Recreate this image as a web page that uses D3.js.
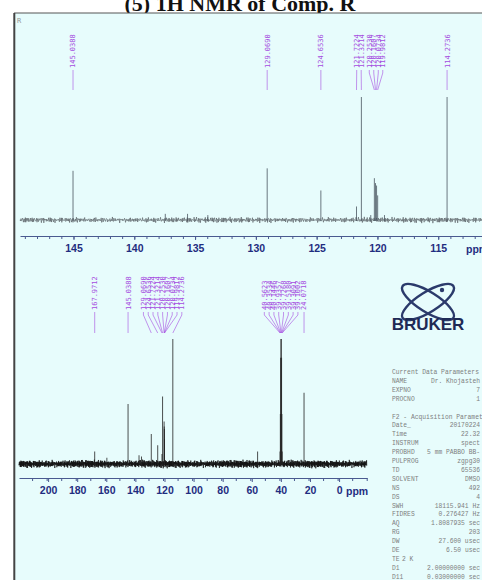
<!DOCTYPE html>
<html>
<head>
<meta charset="utf-8">
<script src="https://cdn.jsdelivr.net/npm/d3@7"></script>
<style>
  body { margin: 0; background: #fff; }
  svg { display: block; }
</style>
</head>
<body>
<svg width="482" height="580"></svg>
<script>
// ---------- data ----------
const titleText = '(5) 1H NMR of Comp. R';

// expanded aromatic region (top)
const topPeakPpm    = [145.0388, 137.45, 135.62, 133.95, 129.0690, 124.6536, 121.7224, 121.3214, 120.55, 120.2530, 120.1607, 120.0734, 119.9812, 119.42, 114.2736];
const topPeakHeight = [40, 5, 5, 4, 42, 24, 11, 100, 4, 34, 30, 28, 20, 4, 100];
const topLabelGroups = [
  [145.0388], [129.0690], [124.6536],
  [121.7224, 121.3214],
  [120.2530, 120.1607, 120.0734, 119.9812],
  [114.2736]
];
const topTicks = [145, 140, 135, 130, 125, 120, 115];

// full spectrum (bottom)
const botPeakPpm    = [167.9712, 159.6, 145.0388, 137.5, 135.8, 129.0690, 124.6536, 121.7224, 121.3214, 120.2530, 120.1607, 120.0734, 119.9812, 114.2736, 56.0, 40.5623, 40.3534, 40.1446, 39.9357, 39.7268, 39.5180, 39.3091, 39.1002, 24.0718];
const botPeakHeight = [10, 5, 48, 7, 6, 24, 15, 8, 54, 34, 30, 28, 20, 100, 10, 10, 40, 85, 100, 100, 85, 40, 10, 57];
const botLabelGroups = [
  [167.9712], [145.0388],
  [129.0690, 124.6536, 121.7224, 121.3214, 120.2530, 120.1607, 120.0734, 119.9812, 114.2736],
  [40.5623, 40.3534, 40.1446, 39.9357, 39.7268, 39.5180, 39.3091, 39.1002],
  [24.0718]
];
const botTicks = [200, 180, 160, 140, 120, 100, 80, 60, 40, 20, 0];

// hand typed baseline noise pattern
const noiseA = [0.3,-0.8,0.5,0.1,-0.4,0.9,-0.2,-0.7,0.6,0.2,-0.5,0.8,-0.9,0.4,0.0,-0.3,0.7,-0.6,0.2,0.5,-0.8,0.1,0.6,-0.4,-0.1,0.9,-0.5,0.3,-0.7,0.4,0.8,-0.2,-0.6,0.1,0.5,-0.9,0.2];
const noiseB = [-0.4,0.6,0.2,-0.7,0.3,-0.1,0.8,-0.5,0.0,0.4,-0.8,0.5,-0.2,0.7,-0.6,0.1,0.3,-0.3,0.9,-0.4,0.2,-0.9,0.5];

// acquisition parameter block
const paramNames  = ['Current Data Parameters', 'NAME', 'EXPNO', 'PROCNO', '', 'F2 - Acquisition Parameters', 'Date_', 'Time', 'INSTRUM', 'PROBHD', 'PULPROG', 'TD', 'SOLVENT', 'NS', 'DS', 'SWH', 'FIDRES', 'AQ', 'RG', 'DW', 'DE', 'TE', 'D1', 'D11'];
const paramValues = ['', 'Dr. Khojasteh', '7', '1', '', '', '20170224', '22.32', 'spect', '5 mm PABBO BB-', 'zgpg30', '65536', 'DMSO', '492', '4', '18115.941 Hz', '0.276427 Hz', '1.8087935 sec', '203', '27.600 usec', '6.50 usec', '2 K', '2.00000000 sec', '0.03000000 sec'];

// ---------- setup ----------
const svg = d3.select('svg');
const W = 482, H = 580;

svg.append('text')
  .attr('x', 240).attr('y', 10.5)
  .attr('text-anchor', 'middle')
  .style('font-family', '"Liberation Serif", "Times New Roman", serif')
  .style('font-weight', 'bold')
  .style('font-size', '22px')
  .style('fill', '#111')
  .text(titleText);

// frame
svg.append('rect')
  .attr('x', 14).attr('y', 13).attr('width', W - 14).attr('height', H - 13)
  .style('fill', '#e7fcfc');
svg.append('line').attr('x1', 14).attr('x2', W).attr('y1', 13).attr('y2', 13)
  .style('stroke', '#555').style('stroke-width', 1);
svg.append('line').attr('x1', 14.3).attr('x2', 14.3).attr('y1', 13).attr('y2', H)
  .style('stroke', '#444').style('stroke-width', 2);

svg.append('text').attr('x', 17).attr('y', 23)
  .style('font-family', '"DejaVu Sans Mono", monospace').style('font-size', '7px')
  .style('fill', '#999').text('R');

const labelColor = '#a54be0';
const axisColor = '#1f2d80';

function drawPanel(opt) {
  const g = svg.append('g');
  const x = opt.x, y = opt.y;

  // baseline noise
  const pts = [];
  const [d0, d1] = x.domain();
  let i = 0;
  for (let p = d0; p >= d1; p -= opt.step, i++) {
    const n = noiseA[i % noiseA.length] + 0.6 * noiseB[i % noiseB.length];
    pts.push([x(p), y(0) - n * opt.noiseAmp]);
  }
  g.append('path')
    .datum(pts)
    .attr('d', d3.line())
    .style('fill', 'none')
    .style('stroke', opt.noiseColor)
    .style('stroke-width', opt.noiseWidth);

  // peaks
  g.selectAll('.peak')
    .data(opt.ppm.map((p, k) => ({ p, h: opt.height[k] })))
    .enter().append('line')
    .attr('class', 'peak')
    .attr('x1', d => x(d.p)).attr('x2', d => x(d.p))
    .attr('y1', y(0) + 1).attr('y2', d => y(d.h))
    .style('stroke', opt.peakColor)
    .style('stroke-width', 0.8);

  // axis
  const minor = d3.axisBottom(x).tickValues(d3.range(Math.ceil(d1), Math.floor(d0) + 1, opt.minorStep))
    .tickSize(3).tickSizeOuter(0).tickFormat('');
  const major = d3.axisBottom(x).tickValues(opt.ticks).tickSize(4).tickSizeOuter(0).tickPadding(5);
  const ag = g.append('g').attr('transform', `translate(0,${opt.axisY})`);
  ag.call(minor);
  const mg = g.append('g').attr('transform', `translate(0,${opt.axisY})`).call(major);
  ag.select('.domain').style('stroke', '#4a5a90');
  mg.select('.domain').remove();
  g.selectAll('.tick line').style('stroke', '#4a5a90');
  mg.selectAll('text')
    .style('font-family', '"Liberation Sans", Arial, sans-serif')
    .style('font-weight', 'bold')
    .style('font-size', '10.5px')
    .style('fill', axisColor);
  g.append('text')
    .attr('x', opt.ppmX).attr('y', opt.axisY + 17)
    .style('font-family', '"Liberation Sans", Arial, sans-serif')
    .style('font-weight', 'bold').style('font-size', '10.5px')
    .style('fill', axisColor).text('ppm');

  // peak labels
  opt.groups.forEach(grp => {
    const px = grp.map(p => x(p));
    const cx = d3.mean(px);
    grp.forEach((p, k) => {
      const lx = cx + (k - (grp.length - 1) / 2) * opt.gap;
      g.append('text')
        .attr('transform', `translate(${lx},${opt.labelBottom}) rotate(-90)`)
        .attr('dy', '0.35em')
        .style('font-family', '"DejaVu Sans Mono", monospace')
        .style('font-size', '7px')
        .style('fill', labelColor)
        .text(p.toFixed(4));
      g.append('polyline')
        .attr('points', `${lx},${opt.labelBottom + 2} ${lx},${opt.labelBottom + 5} ${px[k]},${opt.lineEnd}`)
        .style('fill', 'none')
        .style('stroke', labelColor)
        .style('stroke-width', 0.6);
    });
  });
}

drawPanel({
  x: d3.scaleLinear().domain([149.4, 111.4]).range([20, 482]),
  y: d3.scaleLinear().domain([0, 100]).range([220, 97]),
  ppm: topPeakPpm, height: topPeakHeight, groups: topLabelGroups, ticks: topTicks,
  step: 0.04, noiseAmp: 2.2, noiseColor: '#3a3f44', noiseWidth: 0.5, peakColor: '#4a5560',
  minorStep: 1, axisY: 236, ppmX: 466, labelBottom: 68, lineEnd: 90, gap: 4.5
});

drawPanel({
  x: d3.scaleLinear().domain([220, -19.2]).range([19, 367]),
  y: d3.scaleLinear().domain([0, 100]).range([464, 339]),
  ppm: botPeakPpm, height: botPeakHeight, groups: botLabelGroups, ticks: botTicks,
  step: 0.12, noiseAmp: 3, noiseColor: '#111', noiseWidth: 0.7, peakColor: '#222',
  minorStep: 10, axisY: 478, ppmX: 346, labelBottom: 310, lineEnd: 333, gap: 4.8
});

// Bruker logo
const logo = svg.append('g').attr('transform', 'translate(428,302)');
[32, -32].forEach(a => {
  logo.append('ellipse')
    .attr('rx', 30).attr('ry', 10)
    .attr('transform', `rotate(${a})`)
    .style('fill', 'none').style('stroke', '#2b3a6b').style('stroke-width', 2.4);
});
logo.append('circle').attr('cx', 14).attr('cy', -12).attr('r', 2.2).style('fill', '#2b3a6b');
svg.append('text')
  .attr('x', 428).attr('y', 330)
  .attr('text-anchor', 'middle')
  .style('font-family', '"Liberation Sans", Arial, sans-serif')
  .style('font-weight', 'bold').style('font-size', '17px')
  .style('fill', '#1e2a55')
  .text('BRUKER');

// parameter block
const pg = svg.append('g').style('font-family', '"Liberation Mono", "DejaVu Sans Mono", monospace')
  .style('font-size', '6.3px').style('fill', '#7d8080');
paramNames.forEach((n, k) => {
  const yy = 374 + k * 8.9;
  pg.append('text').attr('x', 392).attr('y', yy).text(n);
  if (paramValues[k]) {
    const left = n === 'TE';
    pg.append('text')
      .attr('x', left ? 402 : 480).attr('y', yy)
      .attr('text-anchor', left ? 'start' : 'end')
      .text(paramValues[k]);
  }
});
</script>
</body>
</html>
